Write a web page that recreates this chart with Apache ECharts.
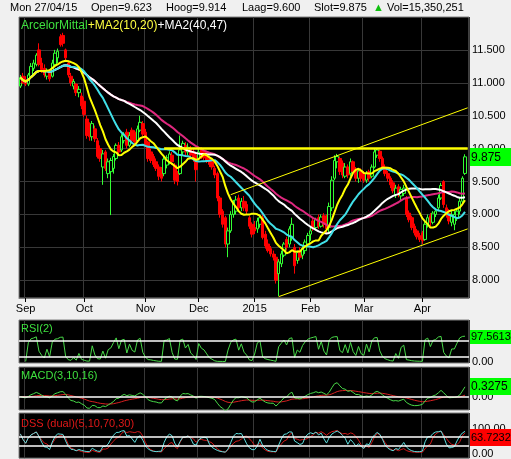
<!DOCTYPE html>
<html><head><meta charset="utf-8">
<script src="https://cdn.jsdelivr.net/npm/echarts@6/dist/echarts.min.js"></script>
<style>html,body{margin:0;padding:0;background:#f0f0f0;}#c{width:511px;height:459px;}</style>
</head><body><div id="c"></div>
<script>
// ---------- data ----------
const holidays = ['2014-12-25','2014-12-26','2015-01-01','2015-04-03','2015-04-06'];
const tickLabels = ['Sep','Oct','Nov','Dec','2015','Feb','Mar','Apr'];
const priceTicks = [8, 8.5, 9, 9.5, 10, 10.5, 11, 11.5];
const opens = [10.95,11.10,11.05,10.98,11.10,11.22,11.28,11.50,11.30,11.22,11.10,11.15,11.10,11.28,11.38,11.70,11.72,11.50,11.30,11.10,10.95,10.98,10.85,10.80,
10.72,10.45,10.35,10.18,10.30,10.12,10.00,9.72,9.95,9.62,9.65,9.70,9.85,10.05,9.98,10.12,10.25,10.05,10.28,10.25,10.12,10.28,10.38,
10.25,10.10,9.95,9.88,9.80,9.72,9.68,9.62,9.75,9.80,9.90,9.75,9.62,9.62,9.95,10.05,9.95,10.00,9.95,9.90,
9.85,9.98,9.95,9.90,9.85,9.80,9.70,9.62,9.25,9.05,8.95,8.55,8.75,9.00,9.05,9.25,9.10,9.20,9.15,8.95,8.85,
8.80,8.78,8.85,8.95,8.70,8.55,8.48,8.40,8.35,8.10,8.25,8.38,8.62,8.55,8.65,8.50,8.30,8.45,8.38,8.45,8.55,
8.70,8.90,8.80,8.95,8.82,8.98,8.88,8.80,9.10,9.55,9.80,9.85,9.78,9.58,9.72,9.62,9.80,9.68,9.55,9.66,
9.62,9.52,9.65,9.58,9.72,9.90,9.96,9.85,9.72,9.62,9.55,9.48,9.30,9.42,9.28,9.32,9.25,9.02,8.95,8.82,8.75,8.68,
8.72,8.62,8.85,8.98,8.88,9.00,9.10,9.25,9.50,9.10,9.02,8.88,8.85,8.95,9.05,9.20,9.623];
const highs = [11.12,11.15,11.10,11.15,11.30,11.35,11.45,11.60,11.38,11.28,11.22,11.20,11.35,11.50,11.52,11.74,11.76,11.52,11.34,11.15,11.06,11.00,10.95,10.85,
10.78,10.50,10.40,10.42,10.35,10.16,10.05,9.98,9.98,9.85,9.86,9.92,10.08,10.10,10.22,10.25,10.30,10.25,10.32,10.28,10.35,10.50,10.42,
10.30,10.12,10.00,9.92,9.85,9.76,9.72,9.88,9.90,9.96,9.95,9.78,9.66,10.20,10.12,10.10,10.08,10.04,10.00,9.95,
10.00,10.02,9.99,9.95,9.88,9.84,9.74,9.65,9.28,9.08,8.98,8.80,9.05,9.22,9.28,9.30,9.25,9.28,9.20,8.98,8.88,
8.90,8.95,9.00,9.00,8.75,8.62,8.52,8.45,8.40,8.32,8.45,8.58,8.66,8.82,8.95,8.55,8.45,8.50,8.52,8.62,8.72,
8.80,8.95,8.95,9.00,9.00,9.02,9.00,9.18,9.58,9.90,9.92,9.88,9.82,9.78,9.76,9.85,9.82,9.72,9.70,9.70,
9.66,9.66,9.68,9.76,10.00,10.00,9.98,9.88,9.76,9.66,9.58,9.52,9.45,9.46,9.42,9.45,9.28,9.06,8.98,8.86,8.78,8.72,
8.75,8.90,9.00,9.02,9.05,9.08,9.30,9.48,9.52,9.15,9.08,9.05,9.05,9.08,9.25,9.58,9.914];
const lows = [10.92,10.98,10.95,10.95,11.08,11.18,11.25,11.25,11.15,11.08,11.05,11.02,11.08,11.25,11.30,11.55,11.55,11.33,11.08,10.95,10.90,10.80,10.78,10.60,
10.48,10.15,10.12,10.12,10.10,9.85,9.80,9.45,9.66,9.55,8.99,9.62,9.82,9.90,9.95,10.08,10.00,10.02,10.08,10.06,10.10,10.25,10.18,
10.02,9.80,9.78,9.72,9.66,9.52,9.50,9.58,9.70,9.76,9.75,9.46,9.44,9.60,9.90,9.90,9.90,9.85,9.80,9.50,
9.82,9.84,9.82,9.78,9.72,9.68,9.55,9.20,8.95,8.80,8.50,8.35,8.72,8.95,9.00,9.05,9.05,9.05,9.00,8.78,8.65,
8.70,8.72,8.80,8.62,8.48,8.42,8.36,8.30,7.95,7.76,8.20,8.35,8.45,8.50,8.60,8.10,8.25,8.30,8.32,8.40,8.50,
8.60,8.75,8.76,8.78,8.80,8.80,8.70,8.72,9.05,9.52,9.70,9.60,9.55,9.55,9.55,9.58,9.60,9.50,9.48,9.50,
9.48,9.48,9.50,9.55,9.70,9.86,9.80,9.68,9.58,9.50,9.40,9.32,9.25,9.26,9.22,9.28,8.96,8.88,8.76,8.68,8.62,8.58,
8.55,8.60,8.80,8.82,8.85,8.96,9.05,9.22,9.10,8.95,8.85,8.82,8.76,8.90,9.00,9.15,9.600];
const closes = [11.08,11.00,10.98,11.12,11.25,11.30,11.42,11.28,11.20,11.12,11.18,11.06,11.30,11.45,11.48,11.58,11.60,11.38,11.12,11.00,11.02,10.85,10.90,10.65,
10.52,10.20,10.18,10.38,10.15,9.88,9.85,9.92,9.70,9.80,9.82,9.88,10.05,9.95,10.18,10.22,10.05,10.20,10.12,10.10,10.30,10.40,10.22,
10.05,9.85,9.82,9.76,9.70,9.58,9.55,9.84,9.86,9.92,9.80,9.52,9.50,9.98,10.08,9.95,10.02,9.90,9.85,9.68,
9.95,9.88,9.86,9.82,9.76,9.72,9.60,9.25,9.00,8.85,8.55,8.75,9.00,9.18,9.22,9.10,9.20,9.10,9.05,8.82,8.70,
8.75,8.90,8.95,8.65,8.52,8.45,8.40,8.35,8.00,8.28,8.40,8.55,8.50,8.78,8.85,8.22,8.42,8.35,8.48,8.58,8.68,
8.75,8.80,8.92,8.82,8.96,8.85,8.78,9.12,9.52,9.82,9.88,9.65,9.60,9.72,9.60,9.80,9.65,9.55,9.66,9.55,
9.52,9.62,9.55,9.72,9.95,9.98,9.85,9.72,9.62,9.55,9.45,9.36,9.40,9.30,9.38,9.40,9.00,8.92,8.80,8.72,8.66,8.62,
8.60,8.85,8.95,8.88,9.02,9.05,9.25,9.44,9.15,9.00,8.90,9.00,9.00,9.05,9.20,9.55,9.875];
const lastVolume = '15,350,251';
const rsiLast = 97.5613, macdLast = 0.3275, dssLast = 63.7232;
const rsiLevels = [80, 20];
const dssLevels = [70, 30];
const resistance = [['2014-11-12', 10.0], ['2015-04-28', 10.0]];
const upperChannel = [['2014-12-17', 9.30], ['2015-04-28', 10.62]];
const lowerChannel = [['2015-01-15', 7.75], ['2015-04-28', 8.78]];

// ---------- categories (trading days) ----------
const categories = [];
for (let t = Date.UTC(2014,7,28); t <= Date.UTC(2015,3,28); t += 86400000) {
  const d = new Date(t), wd = d.getUTCDay(), s = d.toISOString().slice(0,10);
  if (wd !== 0 && wd !== 6 && !holidays.includes(s)) categories.push(s);
}
const isStart = categories.map((c,i) => i > 0 && c.slice(5,7) !== categories[i-1].slice(5,7));
const labelOf = {}; { let k = 0; isStart.forEach((s,i) => { if (s) labelOf[i] = tickLabels[k++]; }); }
const isStartFn = (i) => !!isStart[i];

// ---------- indicators derived from the candles ----------
function sma(a, n) { return a.map((_, i) => { const s = Math.max(0, i-n+1); let t = 0; for (let j = s; j <= i; j++) t += a[j]; return +(t/(i-s+1)).toFixed(4); }); }
function ema(a, n) { const k = 2/(n+1); let e = null; return a.map(v => { if (v == null) return null; e = (e == null) ? v : v*k + e*(1-k); return +e.toFixed(4); }); }
function rsi(c, n) { let ag = 0, al = 0; const out = [null];
  for (let i = 1; i < c.length; i++) { const d = c[i]-c[i-1], g = Math.max(d,0), l = Math.max(-d,0);
    if (i <= n) { ag += g/n; al += l/n; } else { ag = (ag*(n-1)+g)/n; al = (al*(n-1)+l)/n; }
    out.push(i < n ? null : (al === 0 ? 100 : +(100 - 100/(1+ag/al)).toFixed(2))); }
  return out; }
function stoch(n) { return closes.map((c,i) => { const s = Math.max(0, i-n+1); let hh = -Infinity, ll = Infinity;
  for (let j = s; j <= i; j++) { hh = Math.max(hh, highs[j]); ll = Math.min(ll, lows[j]); }
  return hh === ll ? 50 : 100*(c-ll)/(hh-ll); }); }

const ma10 = sma(closes,10), ma20 = sma(closes,20), ma40 = sma(closes,40), ma47 = sma(closes,47);
const rsi2 = rsi(closes, 2);
const e3 = ema(closes,3), e10 = ema(closes,10);
const macd = e3.map((v,i) => +(v - e10[i]).toFixed(4));
const signal = ema(macd, 16);
const dssFast = ema(stoch(5), 3), dssSlow = ema(stoch(10), 3);
const candles = opens.map((o,i) => [o, closes[i], lows[i], highs[i]]);
const last = closes.length - 1;

// ---------- chart ----------
const FONT = 'Liberation Sans';
const GREEN = '#3ee03e';
const chart = echarts.init(document.getElementById('c'), null, {renderer: 'canvas'});
const gridBase = {left: 19, right: 42, show: true, backgroundColor: '#000', borderColor: '#808080', borderWidth: 1};
function xAx(gi, show) {
  return { type: 'category', gridIndex: gi, data: categories, boundaryGap: true,
    axisLine: {show: show, lineStyle: {color: '#808080'}},
    axisTick: {show: show, interval: isStartFn, alignWithLabel: true, length: 4, lineStyle: {color: '#000'}},
    axisLabel: {show: show, interval: isStartFn, formatter: (v, idx) => labelOf[idx] || '', color: '#000', fontFamily: FONT, fontSize: 11, margin: 5},
    splitLine: {show: true, interval: isStartFn, lineStyle: {color: '#383838', width: 1}} };
}
function yAx(gi, min, max, vals, fmt, split) {
  return { type: 'value', gridIndex: gi, position: 'right', min: min, max: max,
    axisLine: {show: false}, axisTick: {show: false, customValues: vals},
    axisLabel: {customValues: vals, formatter: fmt, color: '#000', fontFamily: FONT, fontSize: 11, margin: 3},
    splitLine: {show: split, lineStyle: {color: '#383838', width: 1}} };
}
function level(v) { return { yAxis: v, lineStyle: {color: '#fff', width: 1.5, type: 'solid', opacity: 1}, label: {show: false} }; }
function maLine(data, color) {
  return { type: 'line', xAxisIndex: 0, yAxisIndex: 0, data: data, symbol: 'none', lineStyle: {color: color, width: 2}, z: 3 };
}
function trend(data, width) {
  return { type: 'line', xAxisIndex: 0, yAxisIndex: 0, data: data, symbol: 'none', lineStyle: {color: '#ffff00', width: width}, z: 4 };
}

const hdr = (x, text, fill) => ({ type: 'text', z: 100, style: { x: x, y: 8, text: text, fill: fill || '#000', font: '11px "' + FONT + '"', verticalAlign: 'middle', textVerticalAlign: 'middle' } });
const lbl = (x, y, text, fill, fs) => ({ type: 'text', z: 100, style: { x: x, y: y, text: text, fill: fill, font: fs + 'px "' + FONT + '"', verticalAlign: 'middle', textVerticalAlign: 'middle' } });

const baseGraphic = [
  hdr(10, 'Mon 27/04/15'),
  hdr(91, 'Open=' + opens[last].toFixed(3)),
  hdr(166, 'Hoog=' + highs[last].toFixed(3)),
  hdr(242, 'Laag=' + lows[last].toFixed(3)),
  hdr(314, 'Slot=' + closes[last].toFixed(3)),
  hdr(373, '▲', '#10c010'),
  hdr(387, 'Vol=' + lastVolume),
  { type: 'text', z: 100, style: { x: 21, y: 26, verticalAlign: 'middle', textVerticalAlign: 'middle',
    text: '{g|ArcelorMittal}{y|+MA2(10,20)}{w|+MA2(40,47)}',
    rich: { g: {fill: GREEN, color: GREEN, fontFamily: FONT, fontSize: 12},
            y: {fill: '#ffff40', color: '#ffff40', fontFamily: FONT, fontSize: 12},
            w: {fill: '#ffffff', color: '#ffffff', fontFamily: FONT, fontSize: 12} } } },
  lbl(21, 329, 'RSI(2)', GREEN, 11),
  lbl(21, 376, 'MACD(3,10,16)', GREEN, 11),
  lbl(21, 424, 'DSS (dual)(5,10,70,30)', '#e01818', 11)
];

chart.setOption({
  animation: false,
  backgroundColor: '#f0f0f0',
  grid: [
    Object.assign({top: 17, height: 281}, gridBase),
    Object.assign({top: 320, height: 43}, gridBase),
    Object.assign({top: 367, height: 43}, gridBase),
    Object.assign({top: 413, height: 48}, gridBase)
  ],
  xAxis: [xAx(0, true), xAx(1, false), xAx(2, false), xAx(3, false)],
  yAxis: [
    yAx(0, 7.73, 12.0, priceTicks, v => v.toFixed(3), true),
    yAx(1, -6, 163, [0], v => v.toFixed(2), false),
    yAx(2, -0.44, 0.97, [0], v => v.toFixed(2), false),
    yAx(3, -19, 165, [0, 100], v => v.toFixed(2), false)
  ],
  graphic: baseGraphic,
  series: [
    maLine(ma47, '#e0287f'),
    maLine(ma40, '#ffffff'),
    maLine(ma20, '#40e0e8'),
    maLine(ma10, '#ffff00'),
    { type: 'candlestick', xAxisIndex: 0, yAxisIndex: 0, data: candles, barWidth: 3, z: 2,
      itemStyle: {color: 'rgba(0,0,0,0)', color0: '#ff0000', borderColor: '#33ff33', borderColor0: '#ff0000', borderWidth: 1} },
    trend(resistance, 2.5),
    trend(upperChannel, 1),
    trend(lowerChannel, 1),
    { type: 'line', xAxisIndex: 1, yAxisIndex: 1, data: rsi2, symbol: 'none', lineStyle: {color: '#48d848', width: 1},
      markLine: { silent: true, symbol: 'none', animation: false, data: [level(rsiLevels[0]), level(rsiLevels[1])] } },
    { type: 'line', xAxisIndex: 2, yAxisIndex: 2, data: signal, symbol: 'none', lineStyle: {color: '#d82020', width: 1},
      markLine: { silent: true, symbol: 'none', animation: false, data: [level(0)] } },
    { type: 'line', xAxisIndex: 2, yAxisIndex: 2, data: macd, symbol: 'none', lineStyle: {color: '#48d848', width: 1} },
    { type: 'line', xAxisIndex: 3, yAxisIndex: 3, data: dssSlow, symbol: 'none', lineStyle: {color: '#d01818', width: 1},
      markLine: { silent: true, symbol: 'none', animation: false, data: [level(dssLevels[0]), level(dssLevels[1])] } },
    { type: 'line', xAxisIndex: 3, yAxisIndex: 3, data: dssFast, symbol: 'none', lineStyle: {color: '#5ee0e0', width: 1} }
  ]
});

// value boxes on the right axes, placed through each axis' own scale
const boxes = [
  [0, closes[last], closes[last].toFixed(3), '#00ff00', 12, 18],
  [1, rsiLast, String(rsiLast), '#00ff00', 11, 14],
  [2, macdLast, String(macdLast), '#00ff00', 12, 17],
  [3, dssLast, String(dssLast), '#ff0000', 11, 17]
];
const boxGraphic = [];
boxes.forEach(b => {
  const y = chart.convertToPixel({yAxisIndex: b[0]}, b[1]);
  boxGraphic.push({ type: 'rect', z: 110, shape: {x: 470, y: Math.round(y - b[5]/2), width: 41, height: b[5]}, style: {fill: b[3]} });
  boxGraphic.push({ type: 'text', z: 111, style: { x: 471, y: y + 0.5, text: b[2], fill: '#000', font: b[4] + 'px "' + FONT + '"', verticalAlign: 'middle', textVerticalAlign: 'middle' } });
});
chart.setOption({ graphic: baseGraphic.concat(boxGraphic) });
</script></body></html>
